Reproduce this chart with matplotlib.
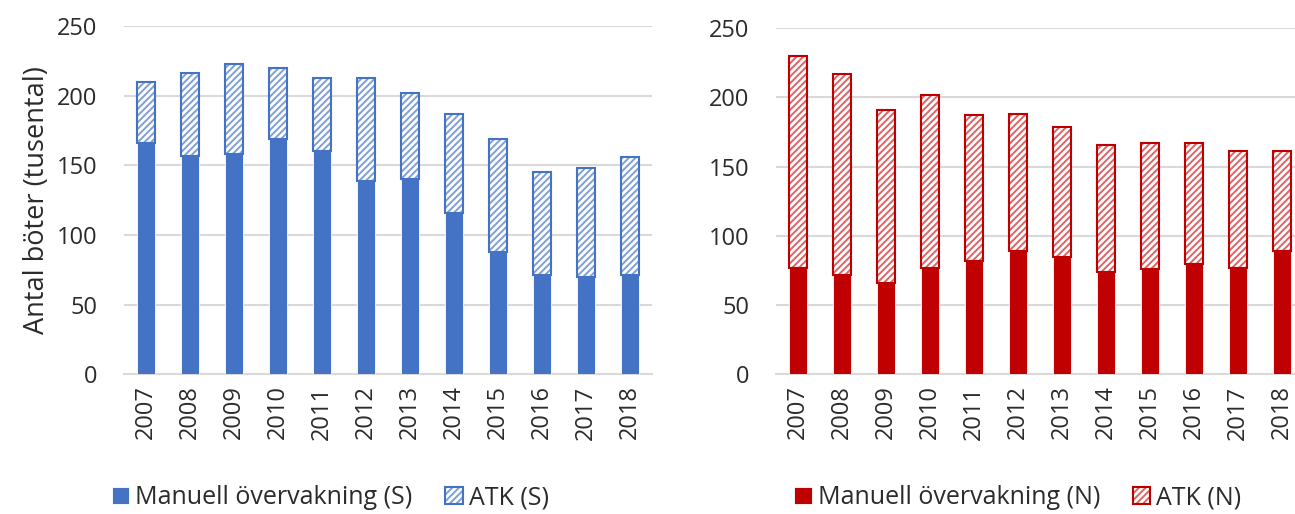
import numpy as np
import matplotlib
matplotlib.use("Agg")
import matplotlib.pyplot as plt

plt.rcParams['font.family'] = ['Open Sans', 'DejaVu Sans']
plt.rcParams['hatch.linewidth'] = 1.4

years = ['2007', '2008', '2009', '2010', '2011', '2012',
         '2013', '2014', '2015', '2016', '2017', '2018']

# Sweden (S), thousands of fines
manuell_s = [166, 157, 158, 169, 160, 139, 140, 116, 88, 71, 70, 71]
total_s = [210, 216, 223, 220, 213, 213, 202, 187, 169, 145, 148, 156]
atk_s = [t - m for t, m in zip(total_s, manuell_s)]

# Norway (N)
manuell_n = [77, 72, 66, 77, 82, 89, 85, 74, 76, 80, 77, 89]
total_n = [230, 217, 191, 202, 187, 188, 179, 166, 167, 167, 161, 161]
atk_n = [t - m for t, m in zip(total_n, manuell_n)]

TEXT = '#2b2b2b'
GRID = '#D9D9D9'
FS = 17

fig = plt.figure(figsize=(12.95, 5.14), dpi=100)
ax1 = fig.add_axes([0.0958, 0.2718, 0.4077, 0.6776])
ax2 = fig.add_axes([0.5992, 0.2718, 0.4077, 0.6732])


def draw(ax, manuell, atk, color, light, lab_m, lab_a, legend_x):
    x = np.arange(len(years))
    b1 = ax.bar(x, manuell, width=0.42, color=color, edgecolor='white',
                linewidth=0.6, label=lab_m, zorder=3)
    # hatch in a lighter tone, outline drawn on top in full colour
    b2 = ax.bar(x, atk, bottom=manuell, width=0.42, facecolor='white',
                edgecolor=light, hatch='/////', linewidth=0, zorder=3)
    b3 = ax.bar(x, atk, bottom=manuell, width=0.42, fill=False,
                edgecolor=color, linewidth=1.5, zorder=4)
    ax.set_xlim(-0.5, len(years) - 0.5)
    ax.set_ylim(0, 250)
    ax.set_yticks([0, 50, 100, 150, 200, 250])
    ax.set_xticks(x)
    ax.set_xticklabels(years, rotation=90)
    ax.grid(axis='y', color=GRID, linewidth=1.5, zorder=0)
    for s in ['top', 'right', 'left']:
        ax.spines[s].set_visible(False)
    ax.spines['bottom'].set_color(GRID)
    ax.spines['bottom'].set_linewidth(1.5)
    ax.tick_params(length=0, labelsize=FS, labelcolor=TEXT)
    ax.tick_params(axis='y', pad=19)
    ax.tick_params(axis='x', pad=8)
    fig.legend(handles=[b1, (b2, b3)], labels=[lab_m, lab_a],
               loc='center', ncol=2, frameon=False,
               bbox_to_anchor=(legend_x, 0.032), fontsize=18,
               labelcolor=TEXT, handlelength=0.7, handleheight=0.7,
               handletextpad=0.25, columnspacing=1.3)


draw(ax1, manuell_s, atk_s, '#4472C4', '#7F9FD8',
     'Manuell övervakning (S)', 'ATK (S)', 0.255)
draw(ax2, manuell_n, atk_n, '#C00000', '#DC6464',
     'Manuell övervakning (N)', 'ATK (N)', 0.786)

ax1.set_ylabel('Antal böter (tusental)', fontsize=19.5, color=TEXT,
               labelpad=4)

fig.savefig('out.png', dpi=100)
